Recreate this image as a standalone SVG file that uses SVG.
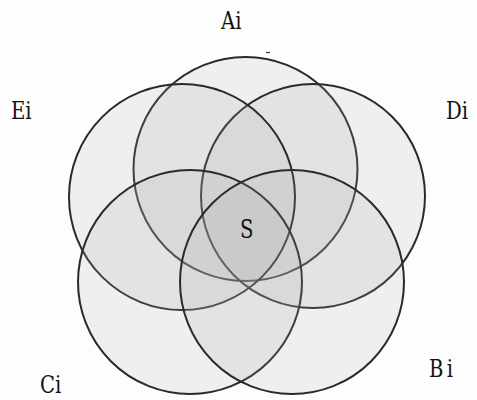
<svg xmlns="http://www.w3.org/2000/svg" width="477" height="400" viewBox="0 0 477 400">
<style>
.c{fill:rgb(170,170,170);fill-opacity:0.17;stroke:none}
.o{fill:none;stroke:#2a2a2a;stroke-width:2}
.t{font-family:"DejaVu Serif","Liberation Serif",serif;font-size:24px;fill:#111}
</style>
<rect width="477" height="400" fill="#fdfdfd"/>
<g id="nodes">
<g id="A"><circle class="c" cx="245.5" cy="169" r="112"/><circle class="o" cx="245.5" cy="169" r="112"/></g>
<g id="D"><circle class="c" cx="313" cy="196" r="112"/><circle class="o" cx="313" cy="196" r="112"/></g>
<g id="E"><circle class="c" cx="182" cy="197" r="113"/><circle class="o" cx="182" cy="197" r="113"/></g>
<g id="C"><circle class="c" cx="190" cy="282" r="112"/><circle class="o" cx="190" cy="282" r="112"/></g>
<g id="B"><circle class="c" cx="292" cy="282" r="112"/><circle class="o" cx="292" cy="282" r="112"/></g>
</g>
<g id="labels">
<text class="t" transform="translate(221,29) scale(0.82,1)">Ai</text>
<text class="t" transform="translate(11,119) scale(0.82,1)">Ei</text>
<text class="t" transform="translate(446,119) scale(0.82,1)">Di</text>
<text class="t" transform="translate(40,393) scale(0.82,1)">Ci</text>
<text class="t" transform="translate(429,377) scale(0.82,1)" letter-spacing="4">Bi</text>
<text class="t" transform="translate(240,238) scale(0.82,1.1)">S</text>
</g>
<line x1="266" y1="52.5" x2="270" y2="52.5" stroke="#333" stroke-width="1.2"/>
</svg>
